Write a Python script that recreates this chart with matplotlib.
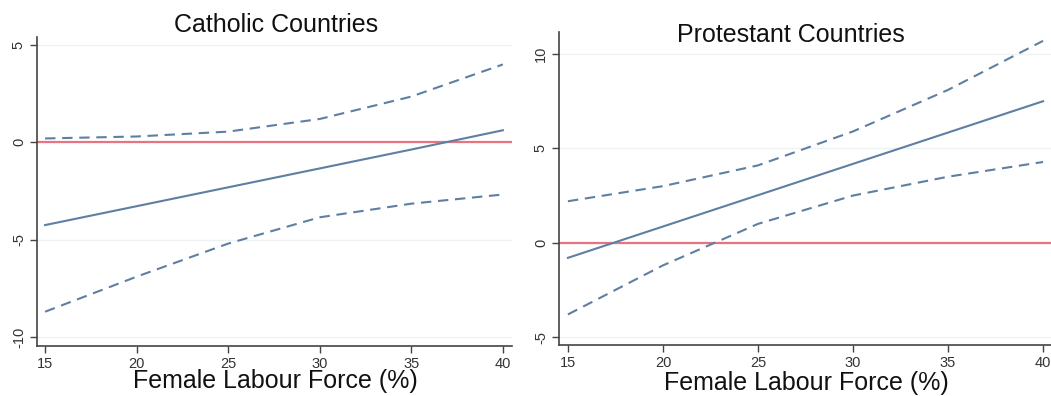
import numpy as np
import matplotlib
matplotlib.use('Agg')
import matplotlib.pyplot as plt

plt.rcParams['font.family'] = ['Liberation Sans', 'DejaVu Sans']

# female labour force share (%) at which the marginal effect is evaluated
flf = [15, 20, 25, 30, 35, 40]

# Catholic countries: marginal effect with 95% bounds
cath_est = [-4.25, -3.28, -2.31, -1.34, -0.37, 0.62]
cath_hi = [0.2, 0.3, 0.55, 1.2, 2.35, 4.0]
cath_lo = [-8.7, -6.9, -5.2, -3.85, -3.15, -2.68]

# Protestant countries
prot_est = [-0.8, 0.86, 2.52, 4.18, 5.84, 7.5]
prot_hi = [2.2, 3.0, 4.1, 5.9, 8.1, 10.7]
prot_lo = [-3.8, -1.2, 1.0, 2.5, 3.5, 4.28]

line_col = '#5f7fa2'
zero_col = '#e87482'
grid_col = '#edf3f3'


def panel(ax, est, hi, lo, yticks, ylim, xlim):
    for y in yticks:
        ax.axhline(y, color=grid_col, lw=1.0, zorder=0)
    ax.axhline(0, color=zero_col, lw=1.6, zorder=1)
    ax.plot(flf, est, color=line_col, lw=1.5, zorder=3)
    ax.plot(flf, hi, color=line_col, lw=1.5, ls=(0, (5, 3.2)), zorder=3)
    ax.plot(flf, lo, color=line_col, lw=1.5, ls=(0, (5, 3.2)), zorder=3)
    ax.set_xlim(*xlim)
    ax.set_ylim(*ylim)
    ax.set_xticks(flf)
    ax.set_yticks(yticks)
    ax.set_yticklabels([str(t) for t in yticks], rotation=90, va='center')
    ax.spines['top'].set_visible(False)
    ax.spines['right'].set_visible(False)
    for s in ('left', 'bottom'):
        ax.spines[s].set_color('#444444')
        ax.spines[s].set_linewidth(1.2)
    ax.tick_params(length=5, width=1.0, color='#444444', labelsize=10.5,
                   labelcolor='#333333', pad=3)


fig = plt.figure(figsize=(10.51, 3.96), dpi=100)

ax1 = fig.add_axes([37 / 1051, 50 / 396, 475 / 1051, 309 / 396])
panel(ax1, cath_est, cath_hi, cath_lo, [-10, -5, 0, 5], (-10.46, 5.41), (14.56, 40.5))

ax2 = fig.add_axes([559 / 1051, 51 / 396, 492 / 1051, 313 / 396])
panel(ax2, prot_est, prot_hi, prot_lo, [-5, 0, 5, 10], (-5.42, 11.17), (14.53, 40.42))

fig.text(276 / 1051, 1 - 25 / 396, 'Catholic Countries', ha='center', va='center',
         fontsize=18, color='#111111')
fig.text(791 / 1051, 1 - 35 / 396, 'Protestant Countries', ha='center', va='center',
         fontsize=18, color='#111111')
fig.text(275 / 1051, 1 - 381 / 396, 'Female Labour Force (%)', ha='center', va='center',
         fontsize=18, color='#111111')
fig.text(806 / 1051, 1 - 383 / 396, 'Female Labour Force (%)', ha='center', va='center',
         fontsize=18, color='#111111')

fig.savefig('out.png', dpi=100)
